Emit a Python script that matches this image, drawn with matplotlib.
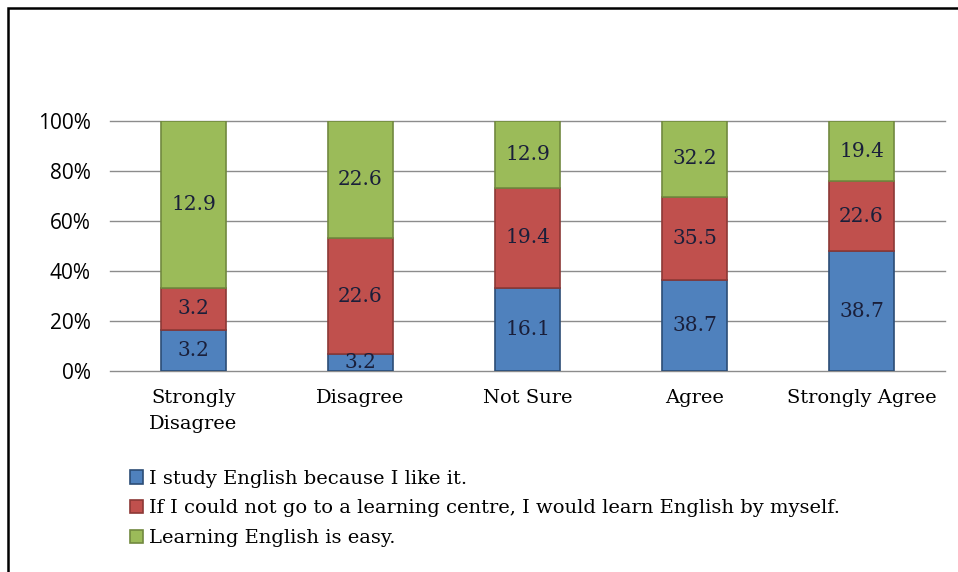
import matplotlib.pyplot as plt
from matplotlib.patches import Rectangle
import numpy as np

categories = ["Strongly\nDisagree", "Disagree", "Not Sure", "Agree", "Strongly Agree"]
like_it = [3.2, 3.2, 16.1, 38.7, 38.7]
by_myself = [3.2, 22.6, 19.4, 35.5, 22.6]
easy = [12.9, 22.6, 12.9, 32.2, 19.4]
series_names = ["I study English because I like it.",
                "If I could not go to a learning centre, I would learn English by myself.",
                "Learning English is easy."]
yticks = [0, 20, 40, 60, 80, 100]

colors = ["#4f81bd", "#c0504d", "#9bbb59"]
edges = ["#2c4d75", "#8c3836", "#71893f"]
serif = ["DejaVu Serif"]

fig = plt.figure(figsize=(9.58, 5.72), dpi=100)
ax = fig.add_axes([110 / 958, 1 - 371 / 572, 835 / 958, 250 / 572])

data = np.array([like_it, by_myself, easy])
pct = data / data.sum(axis=0) * 100
x = np.arange(len(categories))
bottom = np.zeros(len(categories))
handles = []
for i in range(3):
    bars = ax.bar(x, pct[i], 0.39, bottom=bottom, color=colors[i],
                  edgecolor=edges[i], linewidth=1.2, zorder=3)
    handles.append(bars)
    for xi, b, h, v in zip(x, bottom, pct[i], data[i]):
        ax.text(xi, b + h / 2, f"{v:.1f}", ha="center", va="center",
                fontsize=14.5, family=serif, color="#1a1f3a", zorder=4)
    bottom += pct[i]

ax.set_xlim(-0.5, 4.5)
ax.set_ylim(0, 100)
ax.set_yticks(yticks)
ax.set_yticklabels([f"{t}%" for t in yticks], fontsize=15, family="Open Sans")
ax.set_xticks(x)
ax.set_xticklabels(categories, fontsize=14, family=serif, linespacing=1.55)
ax.tick_params(length=0)
ax.tick_params(axis="y", pad=14)
ax.tick_params(axis="x", pad=13)
for t in yticks:
    ax.axhline(t, color="#8c8c8c", linewidth=1.0, zorder=0, clip_on=False)
for s in ax.spines.values():
    s.set_visible(False)

fig.legend(handles, series_names, loc="upper left",
           bbox_to_anchor=(122 / 958, 1 - 462 / 572), frameon=False,
           prop={"family": serif, "size": 14}, handlelength=0.7,
           handleheight=0.7, handletextpad=0.3, labelspacing=0.6,
           borderaxespad=0)

# outer frame
fig.patches.append(Rectangle((8 / 958, -0.1), 1.2, 1 - 8 / 572 + 0.1,
                             transform=fig.transFigure, fill=False,
                             edgecolor="black", linewidth=1.8))

fig.savefig("out.png", dpi=100)
